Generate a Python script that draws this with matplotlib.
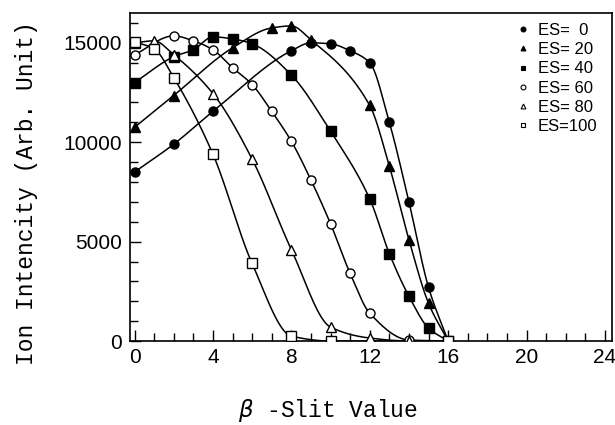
import numpy as np
import matplotlib
matplotlib.use("Agg")
import matplotlib.pyplot as plt
from matplotlib.ticker import MultipleLocator

# beta-slit scan, ion intensity for several ES settings
x_es0 = [0, 2, 4, 8, 9, 10, 11, 12, 13, 14, 15, 16]
y_es0 = [8500, 9900, 11550, 14600, 15000, 14950, 14600, 14000, 11000, 7000, 2700, 0]

x_es20 = [0, 2, 5, 7, 8, 9, 12, 13, 14, 15, 16]
y_es20 = [10750, 12350, 14750, 15750, 15850, 15150, 11850, 8800, 5100, 1900, 0]

x_es40 = [0, 2, 3, 4, 5, 6, 8, 10, 12, 13, 14, 15, 16]
y_es40 = [13000, 14300, 14650, 15300, 15200, 14950, 13380, 10550, 7150, 4400, 2250, 650, 0]

x_es60 = [0, 2, 3, 4, 5, 6, 7, 8, 9, 10, 11, 12, 14, 16]
y_es60 = [14400, 15350, 15100, 14650, 13750, 12900, 11550, 10050, 8100, 5900, 3400, 1400, 50, 0]

x_es80 = [0, 1, 2, 4, 6, 8, 10, 12, 14, 16]
y_es80 = [15000, 15100, 14400, 12450, 9150, 4600, 700, 150, 0, 0]

x_es100 = [0, 1, 2, 4, 6, 8, 10, 16]
y_es100 = [15050, 14700, 13250, 9400, 3900, 250, 0, 0]

labels = ["ES=  0", "ES= 20", "ES= 40", "ES= 60", "ES= 80", "ES=100"]


def pchip(x, y, xs):
    # monotone cubic through the points, just for drawing the smooth curve
    x = np.asarray(x, float)
    y = np.asarray(y, float)
    h = np.diff(x)
    d = np.diff(y) / h
    m = np.zeros_like(y)
    m[0], m[-1] = d[0], d[-1]
    for k in range(1, len(x) - 1):
        if d[k - 1] * d[k] > 0:
            w1 = 2 * h[k] + h[k - 1]
            w2 = h[k] + 2 * h[k - 1]
            m[k] = (w1 + w2) / (w1 / d[k - 1] + w2 / d[k])
    i = np.clip(np.searchsorted(x, xs) - 1, 0, len(x) - 2)
    t = (xs - x[i]) / h[i]
    h00 = 2 * t**3 - 3 * t**2 + 1
    h10 = t**3 - 2 * t**2 + t
    h01 = -2 * t**3 + 3 * t**2
    h11 = t**3 - t**2
    return h00 * y[i] + h10 * h[i] * m[i] + h01 * y[i + 1] + h11 * h[i] * m[i + 1]


series = [
    (x_es0, y_es0, "o", "black"),
    (x_es20, y_es20, "^", "black"),
    (x_es40, y_es40, "s", "black"),
    (x_es60, y_es60, "o", "white"),
    (x_es80, y_es80, "^", "white"),
    (x_es100, y_es100, "s", "white"),
]

fig = plt.figure(figsize=(6.15, 4.25), dpi=100)
ax = fig.add_axes([0.2114, 0.1976, 0.7837, 0.7718])

handles = []
for (xs, ys, mk, fc), lab in zip(series, labels):
    xx = np.linspace(xs[0], xs[-1], 400)
    yy = np.clip(pchip(xs, ys, xx), 0, None)
    ax.plot(xx, yy, color="black", lw=1.1, zorder=2)
    ax.plot(xs, ys, ls="none", marker=mk, ms=6.5, mfc=fc, mec="black",
            mew=1.0, zorder=3)
    h, = ax.plot([], [], ls="none", marker=mk, ms=3.5, mfc=fc, mec="black",
                 mew=0.8, label=lab)
    handles.append(h)

ax.set_xlim(-0.23, 24.36)
ax.set_ylim(0, 16500)

ax.xaxis.set_major_locator(MultipleLocator(4))
ax.xaxis.set_minor_locator(MultipleLocator(1))
ax.yaxis.set_major_locator(MultipleLocator(5000))
ax.yaxis.set_minor_locator(MultipleLocator(1000))
ax.tick_params(which="both", direction="in", width=1.0)
ax.tick_params(which="major", length=8, pad=5)
ax.tick_params(which="minor", length=6)
ax.tick_params(axis="y", which="major", pad=6)

for lab in ax.get_xticklabels() + ax.get_yticklabels():
    lab.set_family("Liberation Sans")
    lab.set_fontsize(15)

for sp in ax.spines.values():
    sp.set_linewidth(1.2)

ax.set_ylabel("Ion Intencity (Arb. Unit)", family="Liberation Mono",
              fontsize=16.5)
ax.yaxis.set_label_coords(-0.19, 0.451)
ax.set_xlabel(r"$\beta$ -Slit Value", family="Liberation Mono",
              fontsize=16.5)
ax.xaxis.set_label_coords(0.41, -0.172)

leg = ax.legend(handles=handles, loc="upper right", frameon=False,
                prop={"family": "Liberation Sans", "size": 12},
                handlelength=0.6, handletextpad=0.6, labelspacing=0.25,
                borderaxespad=0.2, bbox_to_anchor=(0.99, 1.0))

fig.savefig("out.png", dpi=100)
